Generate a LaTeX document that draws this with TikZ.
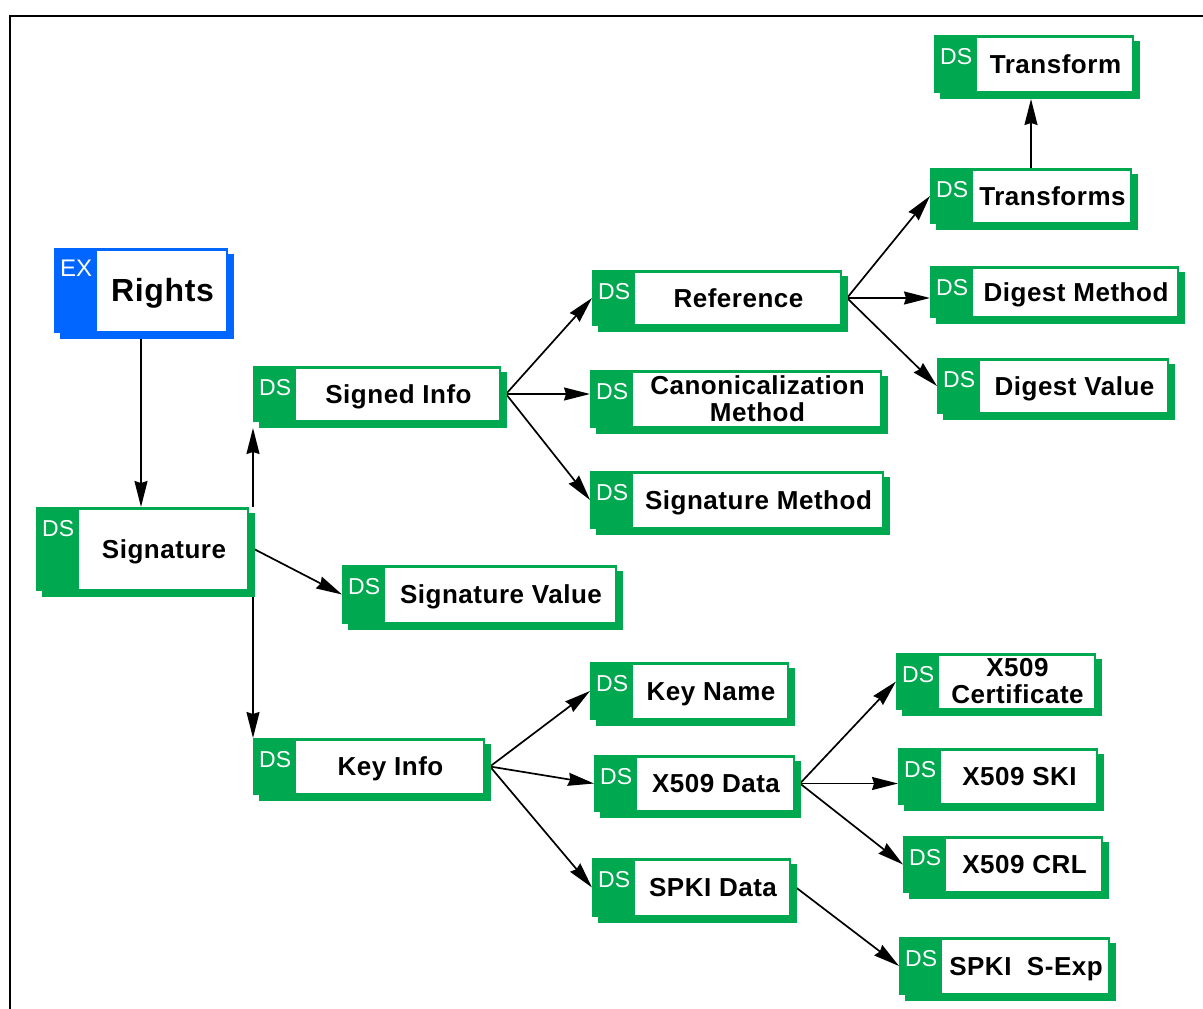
\documentclass[tikz,border=0pt]{standalone}
\usepackage{fontspec}
\setmainfont{Liberation Sans}
\newfontfamily\lblfont[LetterSpace=2]{Liberation Sans}
\usetikzlibrary{arrows.meta,calc}
\definecolor{dsgreen}{RGB}{0,168,80}
\definecolor{exblue}{RGB}{0,102,255}
\pgfdeclarelayer{bg}
\pgfsetlayers{bg,main}
\tikzset{
  front/.style={draw=none,inner sep=0pt,outer sep=0pt,anchor=north west},
  tagtext/.style={text=white,inner sep=0pt,anchor=base west,
    font=\fontsize{23}{25}\selectfont},
  lbl/.style={inner sep=0pt,anchor=center,text height=18.6pt,text depth=0pt,
    font=\lblfont\fontsize{26}{28}\selectfont\bfseries},
  lbltwo/.style={inner sep=0pt,anchor=center,align=center,
    font=\lblfont\fontsize{26}{27}\selectfont\bfseries},
  arr/.style={line width=1.7pt,-{Stealth[length=26pt,width=13pt,inset=2pt]}},
}
% element box: #1 name, #2 x1, #3 y1, #4 x2, #5 y2, #6 colour, #7 tag, #8 label
\newcommand\elembox[8]{%
  \fill[#6] (#2+6,#3+6) rectangle (#4+6,#5+6);
  \node[front,fill=#6,minimum width=#4-#2,minimum height=#5-#3] (#1) at (#2,#3) {};
  \fill[white] ([xshift=43pt,yshift=-2.5pt]#1.north west) rectangle ([xshift=-2.5pt,yshift=2.5pt]#1.south east);
  \node[tagtext] at ([xshift=6pt,yshift=-29pt]#1.north west) {#7};
  \node[lbl] (#1-l) at ($([xshift=43pt]#1.north west)!0.5!(#1.south east)$) {#8};
}
\begin{document}
\begin{tikzpicture}[x=1pt,y=-1pt]
\useasboundingbox (0,0) rectangle (1203,1009);
\draw[line width=2.2pt] (10.3,1009) -- (10.3,15.7) -- (1203,15.7);

% root element
\fill[exblue] (60,254) rectangle (234,339);
\node[front,fill=exblue,minimum width=174,minimum height=85] (rights) at (54,248) {};
\fill[white] ([xshift=43pt,yshift=-2.5pt]rights.north west) rectangle ([xshift=-2.5pt,yshift=2.5pt]rights.south east);
\node[tagtext,font=\fontsize{24}{26}\selectfont] at ([xshift=6pt,yshift=-28pt]rights.north west) {EX};
\node[lbl,text height=22.9pt,font=\lblfont\fontsize{32}{34}\selectfont\bfseries]
  at ($([xshift=43pt]rights.north west)!0.5!(rights.south east)$) {Rights};

% signature elements
\elembox{sig}{36}{507}{249}{591}{dsgreen}{DS}{Signature}
\elembox{si}{253}{366}{501}{422}{dsgreen}{DS}{Signed Info}
\elembox{sv}{342}{565}{617}{624}{dsgreen}{DS}{Signature Value}
\elembox{ki}{253}{738}{485}{795}{dsgreen}{DS}{Key Info}
\elembox{ref}{592}{270}{842}{326}{dsgreen}{DS}{Reference}
\elembox{cm}{590}{370}{882}{428}{dsgreen}{DS}{}
\node[lbltwo] at ($([xshift=43pt]cm.north west)!0.5!(cm.south east)$) {Canonicalization\\Method};
\elembox{sm}{590}{471}{884}{529}{dsgreen}{DS}{Signature Method}
\elembox{kn}{590}{662}{789}{720}{dsgreen}{DS}{Key Name}
\elembox{xd}{594}{755}{795}{812}{dsgreen}{DS}{X509 Data}
\elembox{sd}{592}{858}{791}{917}{dsgreen}{DS}{SPKI Data}
\elembox{tf}{934}{35}{1134}{93}{dsgreen}{DS}{Transform}
\elembox{tfs}{930}{168}{1132}{224}{dsgreen}{DS}{Transforms}
\elembox{dm}{930}{266}{1179}{318}{dsgreen}{DS}{Digest Method}
\elembox{dv}{937}{358}{1169}{414}{dsgreen}{DS}{Digest Value}
\elembox{xc}{896}{653}{1096}{710}{dsgreen}{DS}{}
\node[lbltwo] at ($([xshift=43pt]xc.north west)!0.5!(xc.south east)$) {X509\\Certificate};
\elembox{xs}{898}{748}{1098}{805}{dsgreen}{DS}{X509 SKI}
\elembox{xcrl}{903}{836}{1103}{893}{dsgreen}{DS}{X509 CRL}
\elembox{se}{899}{937}{1110}{995}{dsgreen}{DS}{SPKI\ \ S-Exp}

% connectors
\begin{pgfonlayer}{bg}
\draw[arr] (rights.south) -- (rights.south |- sig.north);
\draw[arr] (si.south west |- sig.north) -- ($(si.south west)+(0,6)$);
\draw[arr] ([xshift=5pt]sig.east) -- (sv.west);
\draw[arr] (ki.north west |- sig.south) -- (ki.north west);
\draw[arr] ([xshift=5pt]si.east) -- (ref.west);
\draw[arr] ([xshift=5pt]si.east) -- (si.east -| cm.west);
\draw[arr] ([xshift=5pt]si.east) -- (sm.west);
\draw[arr] ([xshift=5pt]ref.east) -- (tfs.west);
\draw[arr] ([xshift=5pt]ref.east) -- (ref.east -| dm.west);
\draw[arr] ([xshift=5pt]ref.east) -- (dv.west);
\draw[arr] (tfs.north) -- ($(tfs.north |- tf.south)+(0,6)$);
\draw[arr] ([xshift=5pt]ki.east) -- (kn.west);
\draw[arr] ([xshift=5pt]ki.east) -- (xd.west);
\draw[arr] ([xshift=5pt]ki.east) -- (sd.west);
\draw[arr] ([xshift=5pt]xd.east) -- (xc.west);
\draw[arr] ([xshift=5pt]xd.east) -- (xd.east -| xs.west);
\draw[arr] ([xshift=5pt]xd.east) -- (xcrl.west);
\draw[arr] ([xshift=5pt]sd.east) -- (se.west);
\end{pgfonlayer}
\end{tikzpicture}
\end{document}
